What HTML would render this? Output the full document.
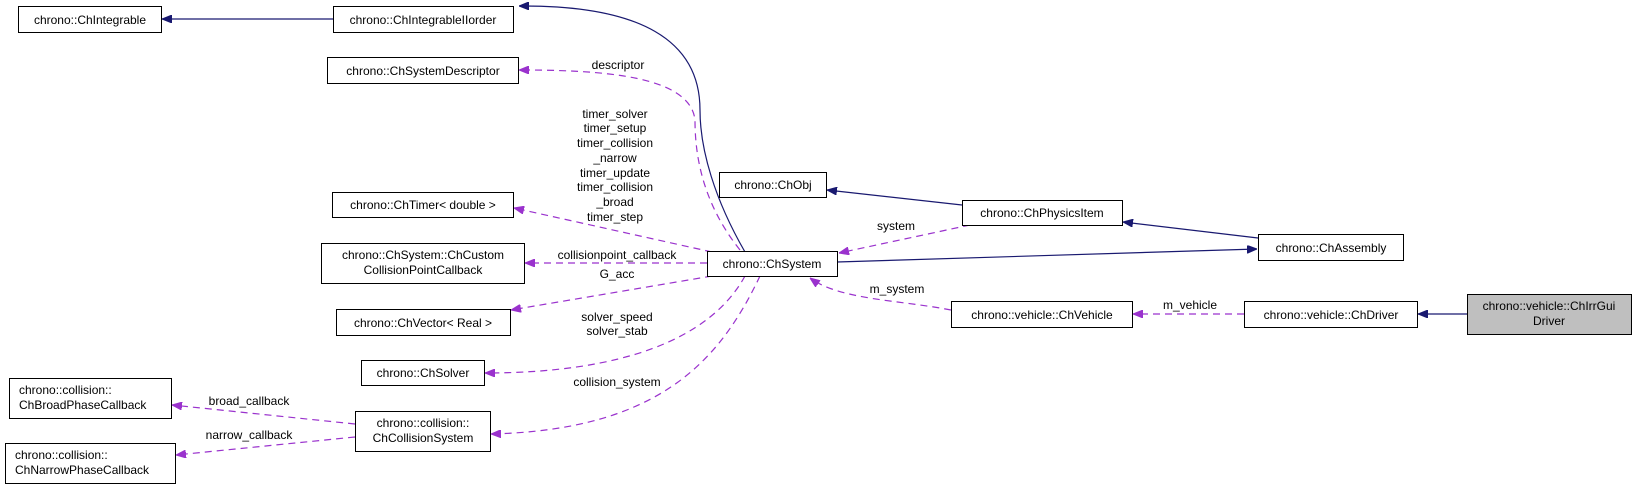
<!DOCTYPE html>
<html><head><meta charset="utf-8"><style>
body{margin:0;background:#fff;width:1633px;height:489px;overflow:hidden}
svg text{font-family:"Liberation Sans",Arial,sans-serif;font-size:12px;fill:#000}
</style></head><body>
<svg width="1633" height="489" viewBox="0 0 1633 489" xmlns="http://www.w3.org/2000/svg">
<defs>
<marker id="an" markerWidth="10" markerHeight="8" refX="10" refY="4" orient="auto" markerUnits="userSpaceOnUse"><path d="M0,0 L10,4 L0,8 z" fill="#191970" stroke="#191970"/></marker>
<marker id="ap" markerWidth="10" markerHeight="8" refX="10" refY="4" orient="auto" markerUnits="userSpaceOnUse"><path d="M0,0 L10,4 L0,8 z" fill="#9a32cd" stroke="#9a32cd"/></marker>
</defs>
<g fill="none" stroke-width="1.2">
<g stroke="#191970" marker-end="url(#an)">
<path d="M333,19 L162,19"/>
<path d="M745,252 C715,200 700,150 700,110 C700,40 640,5 519,6"/>
<path d="M962,205 L827,190"/>
<path d="M1258,238 L1123,222"/>
<path d="M837,262 L1257,249"/>
<path d="M1467,314 L1418,314"/>
</g>
<g stroke="#9a32cd" stroke-dasharray="7,5" marker-end="url(#ap)">
<path d="M740,250 C700,200 695,150 695,120 C690,75 600,70 519,70"/>
<path d="M712,252 L514,208"/>
<path d="M707,263 L525,263"/>
<path d="M712,276 L511,310"/>
<path d="M745,276 C710,340 620,373 485,373"/>
<path d="M760,276 C720,360 660,430 491,434"/>
<path d="M355,424 L172,405"/>
<path d="M355,437 L176,455"/>
<path d="M970,225 L839,253"/>
<path d="M951,310 C900,300 840,300 810,278"/>
<path d="M1244,314 L1133,314"/>
</g>
</g>
<g fill="#fff" stroke="#000" stroke-width="1">
<rect x="18.5" y="6.5" width="143" height="26"/>
<rect x="333.5" y="6.5" width="180" height="26"/>
<rect x="327.5" y="57.5" width="191" height="26"/>
<rect x="332.5" y="192.5" width="181" height="25"/>
<rect x="321.5" y="243.5" width="203" height="40"/>
<rect x="336.5" y="309.5" width="174" height="26"/>
<rect x="361.5" y="360.5" width="123" height="25"/>
<rect x="9.5" y="378.5" width="162" height="40"/>
<rect x="355.5" y="411.5" width="135" height="40"/>
<rect x="5.5" y="443.5" width="170" height="40"/>
<rect x="707.5" y="251.5" width="130" height="25"/>
<rect x="719.5" y="172.5" width="107" height="25"/>
<rect x="962.5" y="200.5" width="160" height="25"/>
<rect x="1258.5" y="234.5" width="145" height="26"/>
<rect x="951.5" y="301.5" width="181" height="26"/>
<rect x="1244.5" y="301.5" width="173" height="26"/>
<rect x="1467.5" y="294.5" width="164" height="40" fill="#bfbfbf"/>
</g>
<g text-anchor="middle">
<text x="90" y="24">chrono::ChIntegrable</text>
<text x="423" y="24">chrono::ChIntegrableIIorder</text>
<text x="423" y="75">chrono::ChSystemDescriptor</text>
<text x="423" y="209">chrono::ChTimer&lt; double &gt;</text>
<text x="423" y="259">chrono::ChSystem::ChCustom</text>
<text x="423" y="274">CollisionPointCallback</text>
<text x="423" y="327">chrono::ChVector&lt; Real &gt;</text>
<text x="423" y="377">chrono::ChSolver</text>
<text x="423" y="427">chrono::collision::</text>
<text x="423" y="442">ChCollisionSystem</text>
<text x="772" y="268">chrono::ChSystem</text>
<text x="773" y="189">chrono::ChObj</text>
<text x="1042" y="217">chrono::ChPhysicsItem</text>
<text x="1331" y="252">chrono::ChAssembly</text>
<text x="1042" y="319">chrono::vehicle::ChVehicle</text>
<text x="1331" y="319">chrono::vehicle::ChDriver</text>
<text x="1549" y="310">chrono::vehicle::ChIrrGui</text>
<text x="1549" y="325">Driver</text>
<text x="618" y="69">descriptor</text>
<text x="615" y="118">timer_solver</text>
<text x="615" y="132">timer_setup</text>
<text x="615" y="147">timer_collision</text>
<text x="615" y="162">_narrow</text>
<text x="615" y="177">timer_update</text>
<text x="615" y="191">timer_collision</text>
<text x="615" y="206">_broad</text>
<text x="615" y="221">timer_step</text>
<text x="617" y="259">collisionpoint_callback</text>
<text x="617" y="278">G_acc</text>
<text x="617" y="321">solver_speed</text>
<text x="617" y="335">solver_stab</text>
<text x="617" y="386">collision_system</text>
<text x="249" y="405">broad_callback</text>
<text x="249" y="439">narrow_callback</text>
<text x="896" y="230">system</text>
<text x="897" y="293">m_system</text>
<text x="1190" y="309">m_vehicle</text>
</g>
<g text-anchor="start">
<text x="19" y="394">chrono::collision::</text>
<text x="19" y="409">ChBroadPhaseCallback</text>
<text x="15" y="459">chrono::collision::</text>
<text x="15" y="474">ChNarrowPhaseCallback</text>
</g>
</svg>
</body></html>
